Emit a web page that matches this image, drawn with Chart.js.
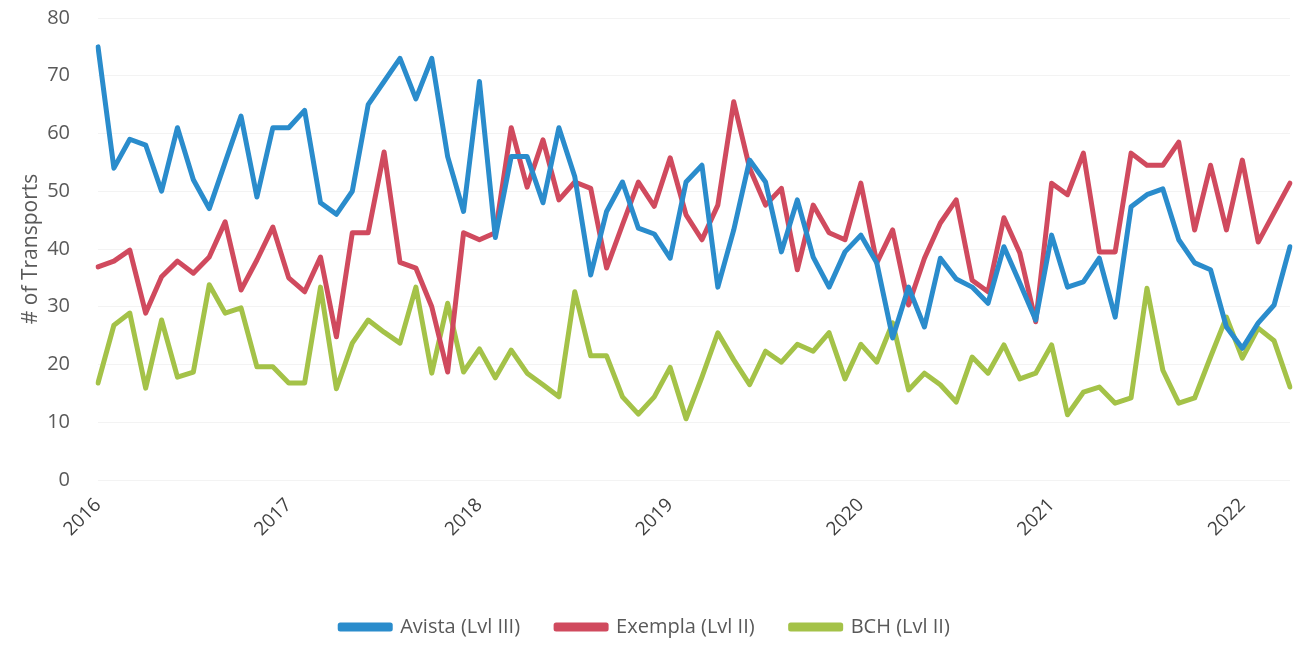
<!DOCTYPE html>
<html>
<head>
<meta charset="utf-8">
<script src="https://cdn.jsdelivr.net/npm/chart.js@4"></script>
<style>
    body { margin: 0; background: #fff; }
    .wrap { width: 1301px; height: 647px; position: relative; }
</style>
</head>
<body>
<div class="wrap"><canvas class="chart1"></canvas></div>
<script>
// monthly, Jan 2016 - Apr 2022
const years = ['2016', '2017', '2018', '2019', '2020', '2021', '2022'];
const months = ['01', '02', '03', '04', '05', '06', '07', '08', '09', '10', '11', '12'];
const labels = [];
years.forEach(y => months.forEach(m => labels.push(y + '-' + m)));
labels.length = 76;

const avista = [
    75, 54, 59, 58, 50, 61, 52, 47, 55, 63, 49, 61,
    61, 64, 48, 46, 50, 65, 69, 73, 66, 73, 56, 46.5,
    69, 42, 56, 56, 48, 61, 52.5, 35.5, 46.5, 51.6, 43.6, 42.6,
    38.4, 51.6, 54.5, 33.4, 43.3, 55.4, 51.6, 39.5, 48.5, 38.6, 33.4, 39.5,
    42.4, 37.6, 24.6, 33.4, 26.5, 38.4, 34.8, 33.4, 30.6, 40.4, 34.1, 27.7,
    42.4, 33.4, 34.3, 38.4, 28.2, 47.3, 49.4, 50.4, 41.6, 37.6, 36.4, 26.5,
    22.8, 27.2, 30.3, 40.4
];
const exempla = [
    36.9, 37.9, 39.8, 28.9, 35.2, 37.9, 35.8, 38.6, 44.7, 32.9, 38.1, 43.8,
    35.0, 32.6, 38.6, 24.8, 42.8, 42.8, 56.8, 37.7, 36.7, 30.0, 18.7, 42.8,
    41.6, 42.8, 61.0, 50.7, 58.9, 48.5, 51.6, 50.5, 36.7, 44.2, 51.6, 47.4,
    55.8, 45.9, 41.6, 47.6, 65.5, 54.0, 47.6, 50.5, 36.4, 47.6, 42.8, 41.6,
    51.4, 37.6, 43.3, 30.3, 38.4, 44.5, 48.5, 34.6, 32.6, 45.4, 39.3, 27.4,
    51.4, 49.4, 56.6, 39.5, 39.5, 56.6, 54.5, 54.5, 58.5, 43.3, 54.5, 43.3,
    55.4, 41.2, 46.3, 51.4
];
const bch = [
    16.8, 26.8, 28.9, 15.9, 27.7, 17.8, 18.7, 33.8, 28.9, 29.8, 19.6, 19.6,
    16.8, 16.8, 33.4, 15.8, 23.7, 27.7, 25.6, 23.7, 33.4, 18.5, 30.6, 18.7,
    22.7, 17.7, 22.5, 18.5, 16.5, 14.4, 32.6, 21.5, 21.5, 14.4, 11.4, 14.4,
    19.5, 10.6, 17.8, 25.5, 20.8, 16.5, 22.3, 20.4, 23.5, 22.3, 25.5, 17.5,
    23.5, 20.4, 27.2, 15.6, 18.5, 16.5, 13.5, 21.3, 18.5, 23.4, 17.5, 18.5,
    23.4, 11.3, 15.2, 16.1, 13.3, 14.2, 33.2, 19.0, 13.3, 14.2, 21.3, 28.2,
    21.1, 26.3, 24.1, 16.1
];

const fontName = '"Open Sans", sans-serif';

const data = {
    labels: labels,
    datasets: [{
        label: 'Avista (Lvl III)',
        backgroundColor: 'rgb(42, 140, 204)',
        borderColor: 'rgb(42, 140, 204)',
        data: avista,
    }, {
        label: 'Exempla (Lvl II)',
        backgroundColor: 'rgb(208, 74, 94)',
        borderColor: 'rgb(208, 74, 94)',
        data: exempla,
    }, {
        label: 'BCH (Lvl II)',
        backgroundColor: 'rgb(164, 194, 72)',
        borderColor: 'rgb(164, 194, 72)',
        data: bch,
    }]
};

const config = {
    type: 'line',
    data: data,
    options: {
        responsive: true,
        maintainAspectRatio: false,
        animation: false,
        layout: { padding: { top: 18, right: 11, left: 0, bottom: 0 } },
        elements: {
            line: { borderWidth: 5, tension: 0, borderJoinStyle: 'round', borderCapStyle: 'round' },
            point: { radius: 0 }
        },
        scales: {
            x: {
                offset: false,
                grid: { display: false },
                border: { display: false },
                ticks: {
                    autoSkip: false,
                    maxRotation: 45,
                    minRotation: 45,
                    padding: 6,
                    color: '#404040',
                    font: { family: fontName, size: 19 },
                    callback: function (val, idx) {
                        const l = labels[idx];
                        return l.endsWith('-01') ? l.slice(0, 4) : null;
                    }
                },
                afterFit: function (scale) { scale.height = 101; }
            },
            y: {
                min: 0,
                max: 80,
                border: { display: false },
                grid: { color: '#f3f3f3', drawTicks: false },
                ticks: {
                    stepSize: 10,
                    padding: 28,
                    color: '#595959',
                    font: { family: fontName, size: 20 }
                },
                title: {
                    display: true,
                    text: '# of Transports',
                    color: '#595959',
                    padding: { top: 18, bottom: 0 },
                    font: { family: fontName, size: 21, weight: 'normal' }
                },
                afterFit: function (scale) {
                    scale.width = 98;
                    scale.paddingTop = 0;
                    scale.paddingBottom = 0;
                }
            }
        },
        plugins: {
            legend: {
                position: 'bottom',
                labels: {
                    boxWidth: 50,
                    boxHeight: 4,
                    padding: 36,
                    color: '#595959',
                    font: { family: fontName, size: 20 }
                }
            },
            tooltip: { enabled: false }
        }
    }
};

const myChart = new Chart(
    document.querySelector('.chart1'),
    config
);
</script>
</body>
</html>
